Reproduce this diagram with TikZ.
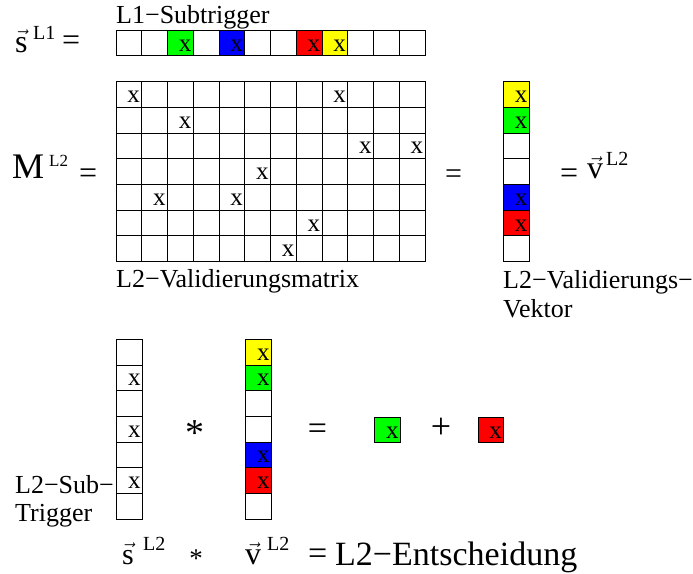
\documentclass[tikz,border=0pt]{standalone}
\usepackage{fontspec}
\setmainfont{Liberation Serif}
\usepackage{xcolor}
\definecolor{trgreen}{RGB}{0,255,0}
\definecolor{trblue}{RGB}{0,0,255}
\definecolor{trred}{RGB}{255,0,0}
\definecolor{tryellow}{RGB}{255,255,0}
\usepackage{tikz}
\usetikzlibrary{positioning}
\newcommand{\vecsym}[1]{$\vec{\mbox{#1}}$}
\tikzstyle{cell} = [
    draw, line width=0.9pt, minimum width=25.75pt, minimum height=25.7pt,
    inner sep=0pt, outer sep=0pt, font=\fontsize{25}{30}\selectfont,
    text height=16pt, text depth=0pt, text width=22pt, align=right,
]
\tikzstyle{txt} = [
    inner sep=0pt, anchor=base west, font=\fontsize{26}{27}\selectfont,
]
\tikzstyle{big} = [
    inner sep=0pt, anchor=base west, font=\fontsize{32}{34}\selectfont,
]
\tikzstyle{sup} = [
    inner sep=0pt, anchor=north west, font=\fontsize{20}{20}\selectfont,
]

\begin{document}
\begin{tikzpicture}[x=1pt,y=-1pt]
    \useasboundingbox (0,0) rectangle (693,573);

    % L1 subtrigger row
    \node[txt] (l1lab) at (116,23.3) {L1−Subtrigger};
    \foreach \c in {0,...,11}
        \node[cell] (s1-\c) at ({116+25.75*(\c+0.5)},43) {};
    \node[cell, fill=trgreen] (s1x-2) at (s1-2) {x};
    \node[cell, fill=trblue] (s1x-4) at (s1-4) {x};
    \node[cell, fill=trred] (s1x-7) at (s1-7) {x};
    \node[cell, fill=tryellow] (s1x-8) at (s1-8) {x};

    \node[big] (s1sym) at (15,52) {\vecsym{s}};
    \node[sup] (s1sup) at (33,26) {L1};
    \node[big] (s1eq) at (62,50.5) {=};

    % validation matrix
    \foreach \r in {0,...,6}
        \foreach \c in {0,...,11}
            \node[cell] (m-\r-\c) at ({116+25.75*(\c+0.5)},{81.7+25.7*(\r+0.5)}) {};
    \foreach \r/\c in {0/0,0/8,1/2,2/9,2/11,3/5,4/1,4/4,5/7,6/6}
        \node[cell, draw=none] (mx-\r-\c) at (m-\r-\c) {x};
    \node[txt] (matlab) at (116,287) {L2−Validierungsmatrix};

    \node[big, font=\fontsize{36}{36}\selectfont] (msym) at (12,178) {M};
    \node[sup, font=\fontsize{17}{17}\selectfont] (msup) at (49,155) {L2};
    \node[big] (meq) at (79,183.5) {=};
    \node[big, font=\fontsize{30}{30}\selectfont] (mveq) at (445,183) {=};

    % validation vector
    \foreach \r/\col/\t in {0/tryellow/x,1/trgreen/x,2/white/,3/white/,4/trblue/x,5/trred/x,6/white/}
        \node[cell, fill=\col] (v-\r) at (516.3,{81.7+25.7*(\r+0.5)}) {\t};
    \node[txt] (veclab) at (503,288) {L2−Validierungs−};
    \node[txt] (veclab2) at (503,317) {Vektor};

    \node[big] (veq) at (560,183.5) {=};
    \node[big] (vsym) at (587,178) {\vecsym{v}};
    \node[sup] (vsup) at (606,152) {L2};

    % L2 subtrigger times vector
    \foreach \r/\t in {0/,1/x,2/,3/x,4/,5/x,6/}
        \node[cell] (s2-\r) at (129.7,{339.3+25.7*(\r+0.5)}) {\t};
    \foreach \r/\col/\t in {0/tryellow/x,1/trgreen/x,2/white/,3/white/,4/trblue/x,5/trred/x,6/white/}
        \node[cell, fill=\col] (w-\r) at (258.7,{339.3+25.7*(\r+0.5)}) {\t};
    \node[txt] (sublab) at (15,493) {L2−Sub−};
    \node[txt] (sublab2) at (15,521) {Trigger};

    \node[big, anchor=base, font=\fontsize{38}{38}\selectfont] (times) at (195,445.7) {*};
    \node[big, anchor=base, font=\fontsize{34}{34}\selectfont] (reseq) at (317.5,439) {=};
    \node[cell, fill=trgreen] (res-g) at (387.5,430) {x};
    \node[big, anchor=base, font=\fontsize{36}{36}\selectfont] (plus) at (441,438) {+};
    \node[cell, fill=trred] (res-r) at (490.9,430) {x};

    % decision
    \node[big, font=\fontsize{30}{30}\selectfont] (s2sym) at (122,564) {\vecsym{s}};
    \node[sup] (s2sup) at (143,537) {L2};
    \node[big, anchor=base, font=\fontsize{27}{27}\selectfont] (times2) at (196,567) {*};
    \node[big] (v2sym) at (245,564) {\vecsym{v}};
    \node[sup] (v2sup) at (267,537) {L2};
    \node[big, font=\fontsize{34}{34}\selectfont] (deceq) at (308,564) {=};
    \node[big, font=\fontsize{34}{34}\selectfont] (declab) at (335,565) {L2−Entscheidung};

\end{tikzpicture}
\end{document}
